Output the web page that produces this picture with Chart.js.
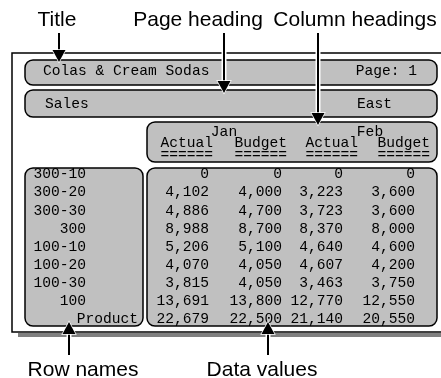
<!DOCTYPE html>
<html lang="en">
<head>
    <meta charset="UTF-8">
    <title>Report layout</title>
    <script src="https://cdn.jsdelivr.net/npm/chart.js"></script>
    <style>
        body { margin: 0; background: #fff; }
        canvas { display: block; }
    </style>
</head>
<body>
    <canvas id="myChart" width="441" height="378"></canvas>

    <script>
        // report content
        const reportTitle = "Colas & Cream Sodas";
        const pageLabel = "Page: 1";
        const pageHeading = ["Sales", "East"];
        const months = ["Jan", "Feb"];
        const measures = ["Actual", "Budget"];
        const rowNames = ["300-10", "300-20", "300-30", "300", "100-10", "100-20", "100-30", "100", "Product"];
        const janActual = [0, 4102, 4886, 8988, 5206, 4070, 3815, 13691, 22679];
        const janBudget = [0, 4000, 4700, 8700, 5100, 4050, 4050, 13800, 22500];
        const febActual = [0, 3223, 3723, 8370, 4640, 4607, 3463, 12770, 21140];
        const febBudget = [0, 3600, 3600, 8000, 4600, 4200, 3750, 12550, 20550];
        const callouts = ["Title", "Page heading", "Column headings"];
        const footCallouts = ["Row names", "Data values"];

        const columns = [janActual, janBudget, febActual, febBudget];

        // layout in canvas units (scales run 0..441 and 0..378)
        const L = {
            frame: [12, 53, 446, 332],
            titleBox: [25, 60, 437, 85],
            pageBox: [25, 90, 437, 117],
            colBox: [147, 122, 437, 162],
            rowBox: [25, 168, 143, 326],
            dataBox: [147, 168, 437, 326],
            rowTop: 174.5, rowStep: 18.1,
            dataRight: [209, 282, 343, 415],
            headRight: [213, 287, 358, 430],
            monthCenter: [224, 370],
            calloutX: [57, 198, 355],
            arrowX: [59, 224, 318],
            arrowTip: [62, 93, 125],
            footX: [83, 262],
            footArrowX: [69, 268]
        };

        const mono = '14.6px "Liberation Mono", "Courier New", monospace';
        const sans = '21px "Liberation Sans", Arial, sans-serif';

        function roundBox(ctx, x, y, b) {
            const x0 = x(b[0]), y0 = y(b[1]), x1 = x(b[2]), y1 = y(b[3]);
            ctx.beginPath();
            ctx.roundRect(x0, y0, x1 - x0, y1 - y0, 8);
            ctx.fillStyle = "#c0c0c0";
            ctx.fill();
            ctx.lineWidth = 1.5;
            ctx.strokeStyle = "#000";
            ctx.stroke();
        }

        function arrow(ctx, px, from, tip) {
            const dir = tip > from ? 1 : -1;
            const base = tip - dir * 12;
            ctx.lineCap = "butt";
            ctx.strokeStyle = "#fff";
            ctx.lineWidth = 5;
            ctx.beginPath(); ctx.moveTo(px, from); ctx.lineTo(px, base); ctx.stroke();
            ctx.strokeStyle = "#000";
            ctx.lineWidth = 2;
            ctx.beginPath(); ctx.moveTo(px, from); ctx.lineTo(px, base); ctx.stroke();
            ctx.beginPath();
            ctx.moveTo(px - 6.5, base);
            ctx.lineTo(px + 6.5, base);
            ctx.lineTo(px, tip);
            ctx.closePath();
            ctx.strokeStyle = "#fff";
            ctx.lineWidth = 1.5;
            ctx.stroke();
            ctx.fillStyle = "#000";
            ctx.fill();
        }

        const reportPlugin = {
            id: "report",
            afterDraw(chart) {
                const ctx = chart.ctx;
                const x = v => chart.scales.x.getPixelForValue(v);
                const y = v => chart.scales.y.getPixelForValue(v);
                ctx.save();

                // frame with shadow
                ctx.fillStyle = "#808080";
                ctx.fillRect(x(18), y(333), x(441) - x(18), 4);
                ctx.strokeStyle = "#000";
                ctx.lineWidth = 1.5;
                ctx.strokeRect(x(L.frame[0]), y(L.frame[1]), x(L.frame[2]) - x(L.frame[0]), y(L.frame[3]) - y(L.frame[1]));

                [L.titleBox, L.pageBox, L.colBox, L.rowBox, L.dataBox].forEach(b => roundBox(ctx, x, y, b));

                ctx.fillStyle = "#000";
                ctx.font = mono;
                ctx.textBaseline = "middle";

                ctx.textAlign = "left";
                ctx.fillText(reportTitle, x(43), y(71));
                ctx.fillText(pageHeading[0], x(45), y(104));
                ctx.textAlign = "right";
                ctx.fillText(pageLabel, x(417), y(71));
                ctx.fillText(pageHeading[1], x(392), y(104));

                // column headings
                ctx.textAlign = "center";
                months.forEach((m, i) => ctx.fillText(m, x(L.monthCenter[i]), y(132)));
                ctx.textAlign = "right";
                L.headRight.forEach((r, i) => {
                    const label = measures[i % measures.length];
                    ctx.fillText(label, x(r), y(143));
                    ctx.fillText("=".repeat(label.length), x(r), y(155));
                });

                // row names and values
                rowNames.forEach((name, r) => {
                    const py = y(L.rowTop + r * L.rowStep);
                    ctx.textAlign = "right";
                    if (r === rowNames.length - 1) ctx.fillText(name, x(138), py);
                    else ctx.fillText(name, x(86), py);
                    columns.forEach((col, c) => {
                        ctx.fillText(col[r].toLocaleString("en-US"), x(L.dataRight[c]), py);
                    });
                });

                // callouts
                ctx.font = sans;
                ctx.textAlign = "center";
                ctx.textBaseline = "alphabetic";
                callouts.forEach((t, i) => ctx.fillText(t, x(L.calloutX[i]), y(26)));
                footCallouts.forEach((t, i) => ctx.fillText(t, x(L.footX[i]), y(376)));

                L.arrowX.forEach((ax, i) => arrow(ctx, x(ax), y(33), y(L.arrowTip[i])));
                L.footArrowX.forEach(ax => arrow(ctx, x(ax), y(355), y(322)));

                ctx.restore();
            }
        };

        new Chart(document.getElementById("myChart"), {
            type: "scatter",
            data: { datasets: [{ data: [], pointRadius: 0 }] },
            options: {
                responsive: false,
                animation: false,
                events: [],
                layout: { padding: 0 },
                plugins: { legend: { display: false }, tooltip: { enabled: false } },
                scales: {
                    x: { type: "linear", min: 0, max: 441, display: false },
                    y: { type: "linear", min: 0, max: 378, reverse: true, display: false }
                }
            },
            plugins: [reportPlugin]
        });
    </script>
</body>
</html>
